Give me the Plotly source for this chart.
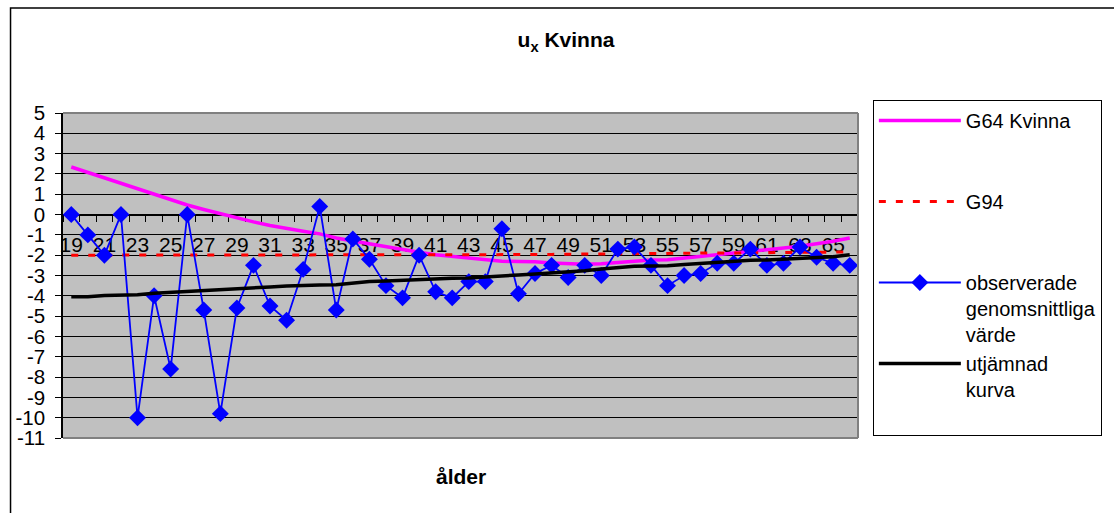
import plotly.graph_objects as go

# Ages on the category axis
ages = list(range(19, 67))

# Mortality index series
g64_kvinna = [2.34, 2.07, 1.80, 1.52, 1.24, 0.97, 0.70, 0.47, 0.25, 0.04,
              -0.16, -0.36, -0.54, -0.70, -0.82, -0.95, -1.15, -1.30, -1.45, -1.60,
              -1.73, -1.86, -1.98, -2.06, -2.14, -2.22, -2.30, -2.31, -2.32, -2.38,
              -2.42, -2.44, -2.42, -2.35, -2.27, -2.24, -2.22, -2.14, -2.06, -2.00,
              -1.93, -1.83, -1.73, -1.65, -1.56, -1.44, -1.31, -1.15]

g94 = [-2.0, -2.0, -2.0, -2.0, -2.0, -2.0, -2.0, -2.0, -2.0, -2.0,
       -2.0, -2.0, -2.0, -2.0, -2.0, -2.0, -2.0, -2.0, -2.0, -2.0,
       -2.0, -2.0, -2.0, -2.0, -2.0, -2.0, -1.99, -1.98, -1.97, -1.96,
       -1.95, -1.95, -1.94, -1.93, -1.93, -1.92, -1.91, -1.91, -1.90, -1.89,
       -1.89, -1.88, -1.87, -1.87, -1.86, -1.85, -1.85, -1.84]

observerade = [0.0, -1.0, -2.0, 0.0, -10.0, -4.0, -7.6, 0.0, -4.7, -9.8,
               -4.6, -2.5, -4.5, -5.2, -2.7, 0.4, -4.7, -1.2, -2.2, -3.5,
               -4.1, -2.0, -3.8, -4.1, -3.3, -3.3, -0.7, -3.9, -2.9, -2.5,
               -3.1, -2.5, -3.0, -1.7, -1.6, -2.5, -3.5, -3.0, -2.9, -2.4,
               -2.4, -1.7, -2.5, -2.4, -1.6, -2.1, -2.4, -2.5]

utjamnad = [-4.05, -4.05, -3.98, -3.97, -3.95, -3.87, -3.82, -3.78, -3.73, -3.68,
            -3.64, -3.60, -3.56, -3.52, -3.48, -3.47, -3.46, -3.38, -3.30, -3.27,
            -3.23, -3.18, -3.13, -3.13, -3.12, -3.06, -3.00, -2.97, -2.93, -2.89,
            -2.85, -2.77, -2.68, -2.60, -2.54, -2.53, -2.52, -2.46, -2.40, -2.33,
            -2.27, -2.25, -2.24, -2.19, -2.14, -2.11, -2.08, -1.98]

# Axis labels
x_tick_ages = list(range(19, 67, 2))
x_tick_labels = [str(a) for a in x_tick_ages]
y_tick_vals = list(range(5, -12, -1))
y_tick_labels = [str(v) if v >= 0 else "-" + str(-v) for v in y_tick_vals]

FONT = "Liberation Sans, Arial, sans-serif"
PAD = "<br>\u00a0<br>\u00a0"

fig = go.Figure()
fig.add_trace(go.Scatter(x=ages, y=g64_kvinna, mode="lines", name="G64 Kvinna" + PAD,
                         line=dict(color="#FF00FF", width=3.5), legendgroup="a"))
fig.add_trace(go.Scatter(x=ages, y=g94, mode="lines", name="G94" + PAD,
                         line=dict(color="#FF0000", width=3, dash="7px,10px"), legendgroup="b"))
fig.add_trace(go.Scatter(x=ages, y=observerade, mode="lines+markers",
                         name="observerade<br>genomsnittliga<br>värde",
                         line=dict(color="#0000FF", width=1.8),
                         marker=dict(symbol="diamond", size=13, color="#0000FF"), legendgroup="c"))
fig.add_trace(go.Scatter(x=ages, y=utjamnad, mode="lines", name="utjämnad<br>kurva<br>\u00a0",
                         line=dict(color="#000000", width=3.5), legendgroup="d"))

# The category axis crosses the value axis at 0
zero_pos = (0 - (-11)) / 16

fig.update_layout(
    width=1114, height=513,
    margin=dict(l=63, r=248, t=113, b=75),
    paper_bgcolor="white",
    plot_bgcolor="#C0C0C0",
    font=dict(family=FONT, size=20, color="black"),
    title=dict(text="<b>u<sub>x</sub> Kvinna</b>", font=dict(size=21, family=FONT),
               x=566 / 1114, xref="container", xanchor="center",
               y=1 - 40 / 513, yref="container", yanchor="middle"),
    xaxis=dict(range=[18.5, 66.5], anchor="free", position=zero_pos, side="bottom",
               showgrid=False, zeroline=False,
               showline=True, linecolor="black", linewidth=1,
               tickmode="array", tickvals=x_tick_ages, ticktext=x_tick_labels,
               ticks="", ticklabelstandoff=11,
               minor=dict(tickmode="linear", tick0=18.5, dtick=1, ticks="outside",
                          ticklen=6, tickcolor="black", tickwidth=1),
               tickfont=dict(size=21, family=FONT), layer="below traces"),
    yaxis=dict(range=[-11, 5], tickmode="array", tickvals=y_tick_vals, ticktext=y_tick_labels,
               showgrid=True, gridcolor="black", gridwidth=1, zeroline=False,
               showline=True, linecolor="black", linewidth=1.5,
               ticks="outside", ticklen=6, tickcolor="black",
               ticklabelstandoff=6, tickfont=dict(size=20.5, family=FONT)),
    legend=dict(x=(881 - 63) / 803, y=(438 - 100) / 325, xanchor="left", yanchor="top",
                bordercolor="black", borderwidth=1, bgcolor="white",
                font=dict(size=20, family=FONT), valign="top", itemwidth=82,
                tracegroupgap=0, maxheight=420),
    showlegend=True,
    annotations=[dict(text="<b>ålder</b>", xref="paper", yref="paper",
                      x=0.5, y=(438 - 476) / 325, xanchor="center", yanchor="middle",
                      showarrow=False, font=dict(size=21, family=FONT))],
)

# Plot area frame (top, right, bottom) and outer chart frame
frame = dict(color="#808080", width=2)
fig.add_shape(type="line", xref="x domain", yref="y domain", x0=0, x1=1, y0=1, y1=1, line=frame)
fig.add_shape(type="line", xref="x domain", yref="y domain", x0=1, x1=1, y0=0, y1=1, line=frame)
fig.add_shape(type="line", xref="x domain", yref="y domain", x0=0, x1=1, y0=0, y1=0, line=frame)
fig.add_shape(type="rect", xref="paper", yref="paper",
              x0=(10 - 63) / 803, x1=1.5, y0=-0.6, y1=(438 - 8) / 325,
              line=dict(color="black", width=1.5), fillcolor="rgba(0,0,0,0)")

fig.write_html("out.html")
